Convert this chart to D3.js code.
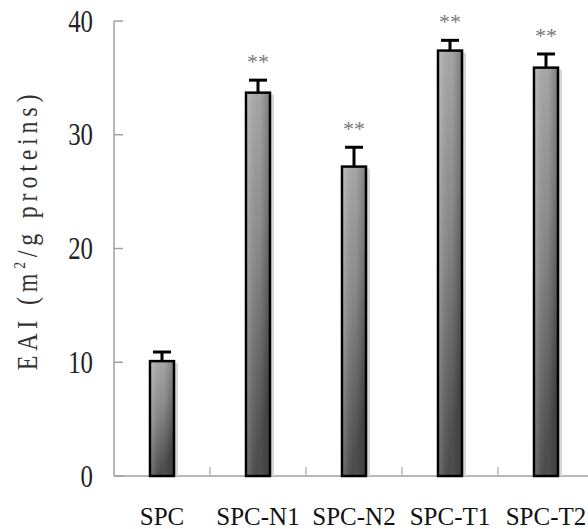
<!DOCTYPE html>
<html><head><meta charset="utf-8">
<script src="https://cdn.jsdelivr.net/npm/d3@7"></script>
<style>body{margin:0;background:#fff}svg{display:block}</style>
</head><body>
<script>
const categories = ["SPC","SPC-N1","SPC-N2","SPC-T1","SPC-T2"];
const values = [10.1, 33.7, 27.2, 37.4, 35.9];
const errors = [0.8, 1.1, 1.7, 0.9, 1.2];
const marks = ["", "**", "**", "**", "**"];
const yTicks = [0,10,20,30,40];

const W=588,H=529;
const svg=d3.select("body").append("svg").attr("width",W).attr("height",H);
const x=d3.scaleBand().domain(categories).range([114,594]).paddingInner(0).paddingOuter(0);
const y=d3.scaleLinear().domain([0,40]).range([476,21]);

const defs=svg.append("defs");
const g1=defs.append("linearGradient").attr("id","barg").attr("x1","0").attr("y1","0").attr("x2","0.35").attr("y2","1");
g1.append("stop").attr("offset","0").attr("stop-color","#b4b4b4");
g1.append("stop").attr("offset","0.5").attr("stop-color","#8c8c8c");
g1.append("stop").attr("offset","1").attr("stop-color","#4e4e4e");
const g2=defs.append("linearGradient").attr("id","barh").attr("x1","0").attr("y1","0").attr("x2","1").attr("y2","0");
g2.append("stop").attr("offset","0").attr("stop-color","#fff").attr("stop-opacity","0.12");
g2.append("stop").attr("offset","0.6").attr("stop-color","#000").attr("stop-opacity","0.0");
g2.append("stop").attr("offset","1").attr("stop-color","#000").attr("stop-opacity","0.18");

// axes
const axisColor="#a0a0a0";
svg.append("line").attr("x1",114).attr("x2",114).attr("y1",y(40)).attr("y2",y(0)).attr("stroke",axisColor).attr("stroke-width",1.5);
svg.append("line").attr("x1",114).attr("x2",W).attr("y1",y(0)).attr("y2",y(0)).attr("stroke",axisColor).attr("stroke-width",1.5);
svg.selectAll(".yt").data(yTicks).enter().append("line")
  .attr("x1",114).attr("x2",123).attr("y1",d=>y(d)).attr("y2",d=>y(d)).attr("stroke",axisColor).attr("stroke-width",1.5);
svg.selectAll(".xt").data(categories.slice(1)).enter().append("line")
  .attr("x1",d=>x(d)).attr("x2",d=>x(d)).attr("y1",y(0)).attr("y2",y(0)-9).attr("stroke","#bbb").attr("stroke-width",1.5);
svg.selectAll(".yl").data(yTicks).enter().append("text")
  .attr("transform",d=>`translate(93,${y(d)+10.5}) scale(0.8,1)`)
  .attr("text-anchor","end").attr("font-family","Liberation Serif").attr("font-size",31).attr("fill","#222").text(d=>d);

// y title
svg.append("text").attr("transform","translate(37,230) rotate(-90) scale(0.8,1)").attr("text-anchor","middle")
  .attr("font-family","Liberation Serif").attr("font-size",30).attr("letter-spacing",6).attr("fill","#333")
  .html('EAI (m<tspan font-size="17" dy="-12">2</tspan><tspan dy="12">/g proteins)</tspan>');

const bw=26;
const cx=d=>x(d)+x.bandwidth()/2;
// shadow
svg.selectAll(".sh").data(categories).enter().append("rect")
  .attr("x",d=>cx(d)-bw/2+3).attr("y",(d,i)=>y(values[i])+2).attr("width",bw).attr("height",(d,i)=>y(0)-y(values[i])-2).attr("fill","#d8d8d8");
// bars
svg.selectAll(".bar").data(categories).enter().append("rect")
  .attr("x",d=>cx(d)-bw/2+1).attr("y",(d,i)=>y(values[i])).attr("width",bw-2).attr("height",(d,i)=>y(0)-y(values[i]))
  .attr("fill","url(#barg)").attr("stroke","#000").attr("stroke-width",2.5);
svg.selectAll(".barh").data(categories).enter().append("rect")
  .attr("x",d=>cx(d)-bw/2+2).attr("y",(d,i)=>y(values[i])+1).attr("width",bw-4).attr("height",(d,i)=>y(0)-y(values[i])-2)
  .attr("fill","url(#barh)");
// error bars
svg.selectAll(".es").data(categories).enter().append("line")
  .attr("x1",cx).attr("x2",cx).attr("y1",(d,i)=>y(values[i])).attr("y2",(d,i)=>y(values[i]+errors[i])).attr("stroke","#000").attr("stroke-width",3);
svg.selectAll(".ec").data(categories).enter().append("line")
  .attr("x1",d=>cx(d)-9).attr("x2",d=>cx(d)+9).attr("y1",(d,i)=>y(values[i]+errors[i])).attr("y2",(d,i)=>y(values[i]+errors[i])).attr("stroke","#000").attr("stroke-width",3);
// stars
svg.selectAll(".st").data(categories).enter().append("text")
  .attr("x",cx).attr("y",(d,i)=>y(values[i]+errors[i])-11).attr("text-anchor","middle")
  .attr("font-family","Liberation Serif").attr("font-size",22).attr("fill","#777").text((d,i)=>marks[i]);
// x labels
svg.selectAll(".xl").data(categories).enter().append("text")
  .attr("x",cx).attr("y",525).attr("text-anchor","middle")
  .attr("font-family","Liberation Serif").attr("font-size",25).attr("fill","#111").text(d=>d);
</script>
</body></html>
